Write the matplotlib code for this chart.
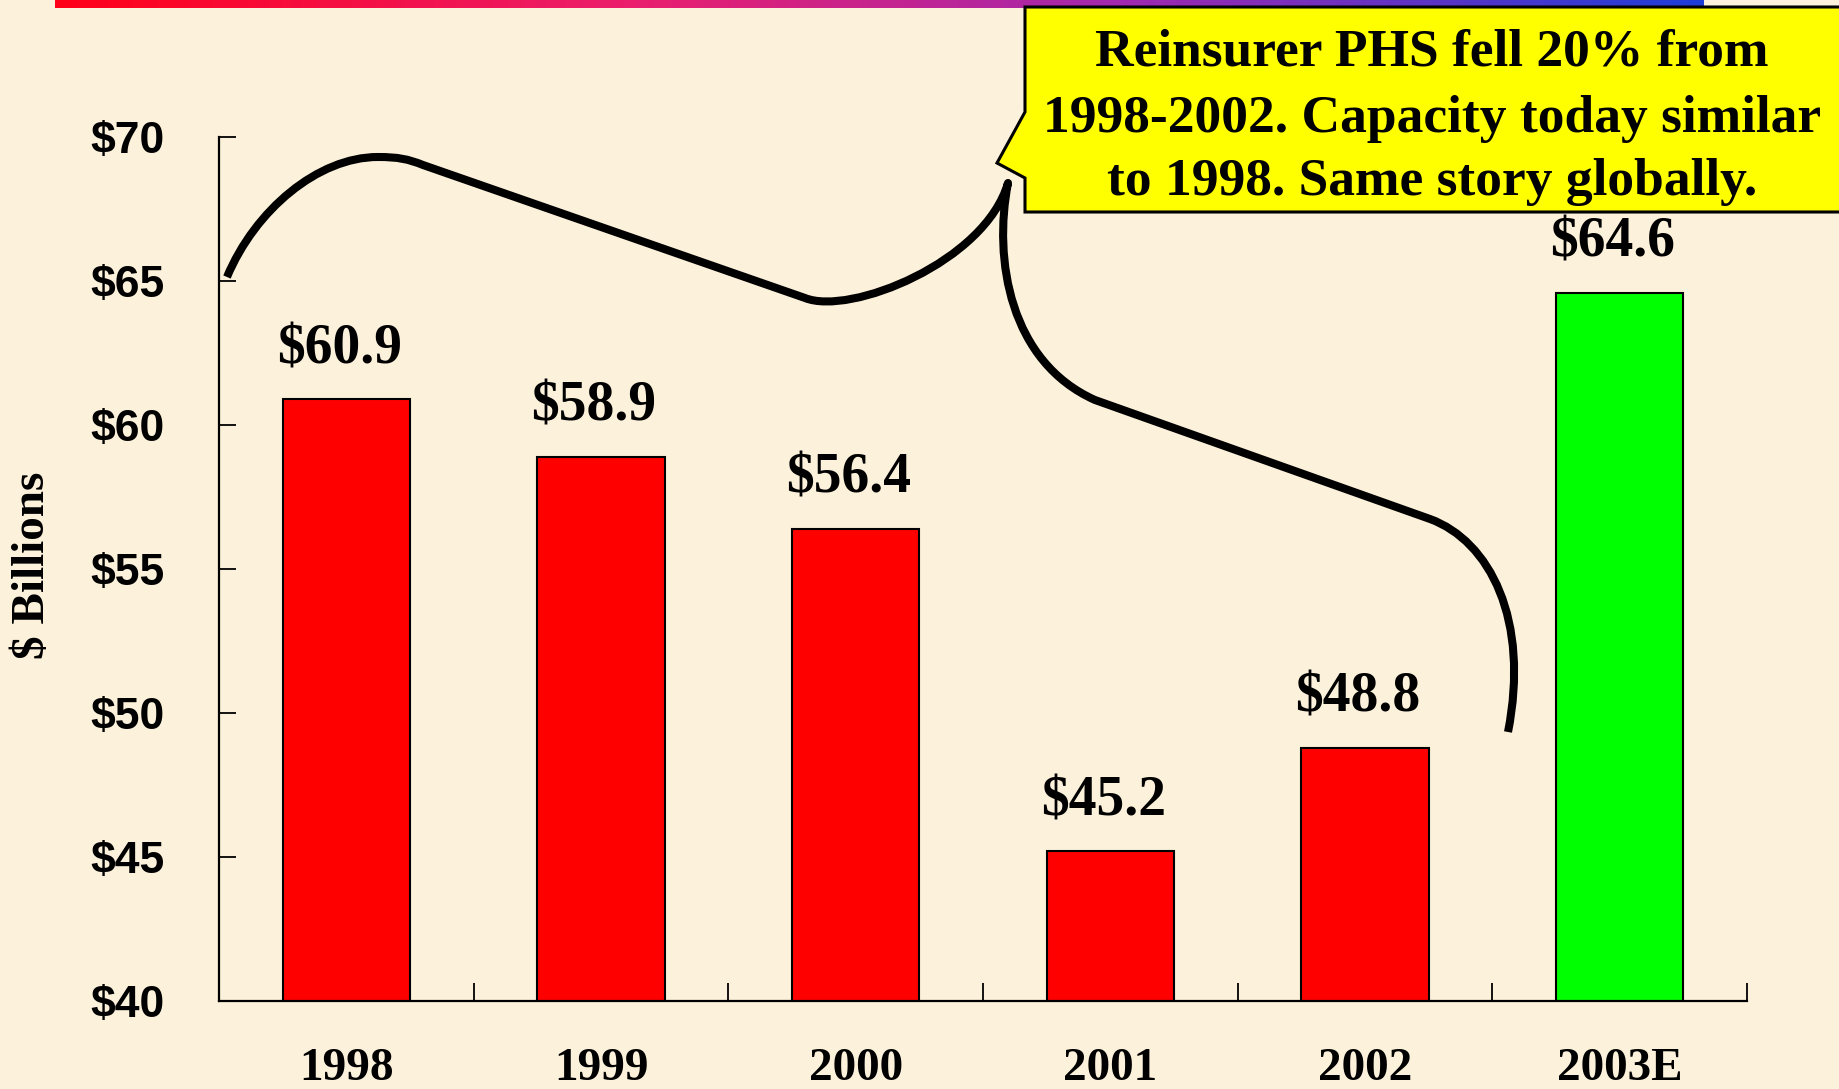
import matplotlib
matplotlib.use("Agg")
import matplotlib.pyplot as plt
import numpy as np
from matplotlib.path import Path
from matplotlib.patches import PathPatch, Polygon, FancyBboxPatch
from matplotlib.colors import LinearSegmentedColormap
import matplotlib.transforms as mtransforms
from matplotlib.ticker import FixedLocator

# ---------------- data ----------------
categories = ["1998", "1999", "2000", "2001", "2002", "2003E"]
values = [60.9, 58.9, 56.4, 45.2, 48.8, 64.6]
bar_colors = ["#FF0000", "#FF0000", "#FF0000", "#FF0000", "#FF0000", "#00FF00"]
value_labels = ["$60.9", "$58.9", "$56.4", "$45.2", "$48.8", "$64.6"]
y_ticks = [40, 45, 50, 55, 60, 65, 70]
y_tick_labels = ["$40", "$45", "$50", "$55", "$60", "$65", "$70"]
y_label = "$ Billions"
callout_lines = ["Reinsurer PHS fell 20% from",
                 "1998-2002. Capacity today similar",
                 "to 1998. Same story globally."]

# ---------------- figure ----------------
W, H = 1839, 1089
BG = "#FCF1DA"
fig = plt.figure(figsize=(W / 100, H / 100), dpi=100, facecolor=BG)

# pixel -> figure transform (y down)
pix = mtransforms.Affine2D().scale(1 / W, -1 / H).translate(0, 1) + fig.transFigure

# top gradient bar (rounded bottom corners)
gx0, gx1, gh = 55, 1704, 8
gax = fig.add_axes([gx0 / W, 1 - gh / H, (gx1 - gx0) / W, gh / H])
cmap = LinearSegmentedColormap.from_list(
    "g", [(0, (1.0, 0.0, 0.1)), (0.35, (0.92, 0.12, 0.43)),
          (0.65, (0.63, 0.16, 0.69)), (1.0, (0.12, 0.24, 0.85))])
im = gax.imshow(np.linspace(0, 1, 400)[None, :], aspect="auto", cmap=cmap,
                extent=[0, 1, 0, 1])
clip = FancyBboxPatch((0, 0), 1, 2, boxstyle="round,pad=0,rounding_size=0.006",
                      transform=gax.transAxes, facecolor="none", edgecolor="none",
                      mutation_aspect=1)
gax.add_patch(clip)
im.set_clip_path(clip)
gax.set_axis_off()

# main axes
ax = fig.add_axes([219 / W, 1 - 1001 / H, (1747 - 219) / W, (1001 - 137) / H])
ax.set_facecolor("none")
x = np.arange(len(categories))
ax.bar(x, values, width=0.5, color=bar_colors, edgecolor="black", linewidth=1.5,
       zorder=2)
ax.set_xlim(-0.5, len(categories) - 0.5)
ax.set_ylim(40, 70)

for spine in ["top", "right"]:
    ax.spines[spine].set_visible(False)
for spine in ["left", "bottom"]:
    ax.spines[spine].set_linewidth(1.6)
    ax.spines[spine].set_zorder(3)

ax.set_yticks(y_ticks)
ax.set_yticklabels(y_tick_labels, fontfamily="Liberation Sans", fontweight="bold",
                   fontsize=32)
ax.tick_params(axis="y", direction="in", length=12, width=1.3, pad=39)

ax.set_xticks(x)
ax.set_xticklabels(categories, fontfamily="Liberation Serif", fontweight="bold",
                   fontsize=34)
ax.tick_params(axis="x", which="major", length=0, pad=34)
ax.xaxis.set_minor_locator(FixedLocator(np.arange(0.5, len(categories), 1.0)))
ax.tick_params(axis="x", which="minor", direction="in", length=13, width=1.3)

for xi, v, lab in zip(x, values, value_labels):
    ax.annotate(lab, (xi, v), xytext=(-5, 36), textcoords="offset points",
                ha="center", va="center", fontfamily="Liberation Serif",
                fontweight="bold", fontsize=40, zorder=4)

fig.text(33 / W, 1 - 565 / H, y_label, rotation=90, ha="center", va="center",
         fontfamily="Liberation Serif", fontweight="bold", fontsize=34)

# callout box
callout = Polygon([(1025, 7), (1850, 7), (1850, 212), (1025, 212), (1025, 178),
                   (997, 163), (1025, 112)], closed=True, facecolor="#FFFF00",
                  edgecolor="black", linewidth=2.2, transform=pix, zorder=5)
fig.add_artist(callout)
for ly, line in zip([53, 119, 182], callout_lines):
    fig.text(1432 / W, 1 - ly / H, line, ha="center", va="center",
             fontfamily="Liberation Serif", fontweight="bold", fontsize=38.5,
             zorder=6)

# curly brace annotation
verts = [(227, 277), (255, 210), (318, 157), (378, 157),
         (398, 157), (408, 159), (423, 165),
         (805, 298),
         (850, 316), (985, 262), (1008, 183),
         (993, 260), (1010, 362), (1095, 400),
         (1430, 519),
         (1490, 541), (1530, 620), (1508, 732)]
codes = [Path.MOVETO, Path.CURVE4, Path.CURVE4, Path.CURVE4,
         Path.CURVE4, Path.CURVE4, Path.CURVE4,
         Path.LINETO,
         Path.CURVE4, Path.CURVE4, Path.CURVE4,
         Path.CURVE4, Path.CURVE4, Path.CURVE4,
         Path.LINETO,
         Path.CURVE4, Path.CURVE4, Path.CURVE4]
brace = PathPatch(Path(verts, codes), facecolor="none", edgecolor="black",
                  linewidth=5.8, capstyle="butt", joinstyle="round",
                  transform=pix, zorder=4)
fig.add_artist(brace)

fig.savefig("out.png", dpi=100, facecolor=BG)
